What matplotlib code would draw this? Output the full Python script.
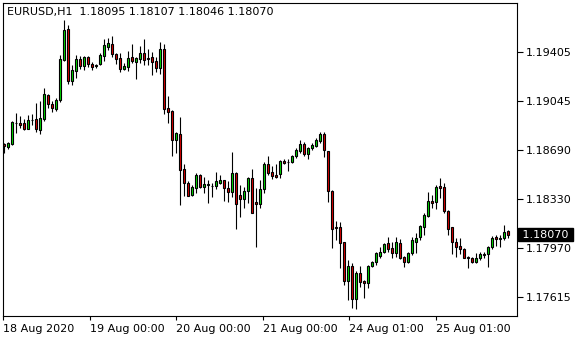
import matplotlib
matplotlib.use("Agg")
import matplotlib.pyplot as plt
import numpy as np

symbol = "EURUSD,H1"

opens = [1.18735, 1.18713, 1.18733, 1.18889, 1.18884, 1.18886, 1.18845, 1.18905, 1.18916, 1.18835,
         1.18914, 1.19089, 1.19023, 1.18991, 1.19053, 1.19348, 1.19572, 1.19196, 1.19267, 1.19355,
         1.19304, 1.19372, 1.19318, 1.19306, 1.19318, 1.19379, 1.19445, 1.19465, 1.19392, 1.19360,
         1.19284, 1.19299, 1.19367, 1.19335, 1.19357, 1.19397, 1.19360, 1.19367, 1.19340, 1.19291,
         1.19428, 1.18994, 1.18974, 1.18764, 1.18804, 1.18548, 1.18445, 1.18359, 1.18408, 1.18506,
         1.18420, 1.18435, 1.18428, 1.18427, 1.18449, 1.18467, 1.18408, 1.18379, 1.18518, 1.18357,
         1.18328, 1.18389, 1.18482, 1.18306, 1.18291, 1.18401, 1.18586, 1.18526, 1.18506, 1.18511,
         1.18608, 1.18598, 1.18599, 1.18643, 1.18684, 1.18733, 1.18657, 1.18701, 1.18720, 1.18757,
         1.18804, 1.18682, 1.18389, 1.18120, 1.18123, 1.18013, 1.17732, 1.17837, 1.17596, 1.17786,
         1.17730, 1.17713, 1.17837, 1.17867, 1.17915, 1.17944, 1.18006, 1.17969, 1.17937, 1.18006,
         1.17903, 1.17867, 1.17933, 1.18018, 1.18054, 1.18127, 1.18208, 1.18318, 1.18306, 1.18425,
         1.18416, 1.18244, 1.18123, 1.18013, 1.17986, 1.17962, 1.17904, 1.17896, 1.17867, 1.17896,
         1.17924, 1.17925, 1.17977, 1.18054, 1.18035, 1.18047, 1.18095]
highs = [1.18738, 1.18750, 1.18903, 1.18957, 1.18940, 1.18916, 1.18945, 1.18952, 1.19031, 1.19048,
         1.19140, 1.19099, 1.19048, 1.19067, 1.19384, 1.19644, 1.19604, 1.19311, 1.19384, 1.19377,
         1.19377, 1.19377, 1.19335, 1.19318, 1.19397, 1.19499, 1.19506, 1.19523, 1.19401, 1.19397,
         1.19328, 1.19416, 1.19465, 1.19372, 1.19450, 1.19501, 1.19426, 1.19406, 1.19372, 1.19477,
         1.19465, 1.19084, 1.18982, 1.18823, 1.18933, 1.18586, 1.18462, 1.18433, 1.18523, 1.18513,
         1.18493, 1.18469, 1.18445, 1.18526, 1.18506, 1.18471, 1.18462, 1.18674, 1.18526, 1.18435,
         1.18420, 1.18493, 1.18550, 1.18408, 1.18469, 1.18599, 1.18647, 1.18572, 1.18586, 1.18616,
         1.18623, 1.18623, 1.18654, 1.18703, 1.18762, 1.18750, 1.18711, 1.18738, 1.18774, 1.18818,
         1.18818, 1.18684, 1.18396, 1.18169, 1.18164, 1.18016, 1.17884, 1.17859, 1.17805, 1.17840,
         1.17737, 1.17847, 1.17876, 1.17944, 1.17981, 1.18006, 1.18050, 1.18018, 1.18050, 1.18037,
         1.17913, 1.17944, 1.18050, 1.18079, 1.18140, 1.18230, 1.18384, 1.18359, 1.18433, 1.18482,
         1.18445, 1.18250, 1.18127, 1.18042, 1.18042, 1.17969, 1.17913, 1.17903, 1.17933, 1.17940,
         1.17940, 1.17988, 1.18059, 1.18067, 1.18067, 1.18140, 1.18107]
lows = [1.18665, 1.18698, 1.18725, 1.18815, 1.18852, 1.18837, 1.18840, 1.18872, 1.18823, 1.18808,
        1.18901, 1.18998, 1.18969, 1.18974, 1.19042, 1.19340, 1.19172, 1.19165, 1.19214, 1.19282,
        1.19274, 1.19299, 1.19274, 1.19291, 1.19311, 1.19343, 1.19421, 1.19372, 1.19316, 1.19262,
        1.19274, 1.19269, 1.19323, 1.19209, 1.19323, 1.19311, 1.19311, 1.19238, 1.19262, 1.19243,
        1.18950, 1.18889, 1.18645, 1.18669, 1.18286, 1.18354, 1.18352, 1.18352, 1.18376, 1.18413,
        1.18376, 1.18303, 1.18343, 1.18403, 1.18442, 1.18318, 1.18310, 1.18343, 1.18108, 1.18201,
        1.18262, 1.18299, 1.18225, 1.17976, 1.18262, 1.18372, 1.18506, 1.18474, 1.18486, 1.18482,
        1.18586, 1.18537, 1.18594, 1.18632, 1.18665, 1.18647, 1.18621, 1.18689, 1.18709, 1.18738,
        1.18638, 1.18310, 1.17974, 1.18032, 1.17823, 1.17701, 1.17591, 1.17530, 1.17525, 1.17684,
        1.17603, 1.17681, 1.17830, 1.17847, 1.17900, 1.17933, 1.17944, 1.17900, 1.17903, 1.17891,
        1.17835, 1.17860, 1.17920, 1.17933, 1.18030, 1.18067, 1.18201, 1.18262, 1.18257, 1.18335,
        1.18225, 1.18067, 1.17928, 1.17903, 1.17928, 1.17896, 1.17827, 1.17862, 1.17860, 1.17884,
        1.17896, 1.17835, 1.17964, 1.17986, 1.17976, 1.18030, 1.18046]
closes = [1.18720, 1.18742, 1.18892, 1.18884, 1.18874, 1.18846, 1.18906, 1.18912, 1.18845, 1.18921,
          1.19097, 1.19023, 1.18994, 1.19053, 1.19355, 1.19567, 1.19194, 1.19274, 1.19353, 1.19306,
          1.19372, 1.19318, 1.19299, 1.19309, 1.19384, 1.19457, 1.19470, 1.19392, 1.19355, 1.19284,
          1.19304, 1.19360, 1.19343, 1.19360, 1.19397, 1.19348, 1.19357, 1.19333, 1.19291, 1.19428,
          1.18989, 1.18969, 1.18764, 1.18811, 1.18542, 1.18445, 1.18354, 1.18416, 1.18506, 1.18420,
          1.18440, 1.18438, 1.18426, 1.18460, 1.18467, 1.18408, 1.18379, 1.18518, 1.18291, 1.18328,
          1.18389, 1.18484, 1.18230, 1.18291, 1.18401, 1.18586, 1.18523, 1.18498, 1.18493, 1.18606,
          1.18591, 1.18600, 1.18645, 1.18689, 1.18733, 1.18657, 1.18703, 1.18725, 1.18762, 1.18806,
          1.18689, 1.18391, 1.18113, 1.18123, 1.18010, 1.17732, 1.17837, 1.17600, 1.17786, 1.17725,
          1.17713, 1.17840, 1.17869, 1.17933, 1.17940, 1.17998, 1.17964, 1.17933, 1.18013, 1.17900,
          1.17867, 1.17933, 1.18030, 1.18047, 1.18133, 1.18213, 1.18318, 1.18303, 1.18416, 1.18408,
          1.18244, 1.18108, 1.18013, 1.17981, 1.17962, 1.17900, 1.17902, 1.17867, 1.17896, 1.17925,
          1.17926, 1.17977, 1.18047, 1.18035, 1.18042, 1.18091, 1.18070]

y_ticks = [1.17615, 1.17970, 1.18330, 1.18690, 1.19045, 1.19405]
x_tick_labels = ["18 Aug 2020", "19 Aug 00:00", "20 Aug 00:00",
                 "21 Aug 00:00", "24 Aug 01:00", "25 Aug 01:00"]
x_tick_pos = [-0.08, 21.5, 43.18, 64.85, 86.43, 108.1]

W, H = 580, 340
fig = plt.figure(figsize=(W / 100, H / 100), dpi=100)
fig.patch.set_facecolor("white")
ax = fig.add_axes([3 / W, 24 / H, 513.5 / W, 313 / H])

o = np.array(opens)
c = np.array(closes)
x = np.arange(len(o))
up = c >= o

ax.vlines(x, lows, highs, color="black", lw=0.8, zorder=1)
bottoms = np.minimum(o, c)
heights = np.abs(c - o)
cols = np.where(up, "#00dd00", "#dd0000")
ax.bar(x, heights, width=0.6, bottom=bottoms, color=cols,
       edgecolor="black", linewidth=0.8, zorder=2)

ax.set_xlim(-0.2, 128.2)
ax.set_ylim(1.17474, 1.19765)

ax.yaxis.tick_right()
ax.set_yticks(y_ticks)
ax.set_yticklabels([f"{v:.5f}" for v in y_ticks])
ax.tick_params(axis="y", direction="out", length=4, width=0.8, labelsize=8,
               pad=3, colors="black")
ax.set_xticks(x_tick_pos)
ax.set_xticklabels(x_tick_labels)
for lab in ax.get_xticklabels():
    lab.set_horizontalalignment("left")
ax.tick_params(axis="x", direction="out", length=3, width=0.8, labelsize=8, pad=2.5)

for s in ax.spines.values():
    s.set_linewidth(0.8)
    s.set_color("black")

# current price label
ax.annotate(f" {closes[-1]:.5f} ", xy=(1, closes[-1]), xycoords=("axes fraction", "data"),
            xytext=(2.6, 0), textcoords="offset pixels", va="center", ha="left",
            color="white", fontsize=8, annotation_clip=False,
            bbox=dict(boxstyle="square,pad=0.1", fc="black", ec="black"))

# header
fig.text(7.3 / W, 1 - 12.5 / H,
         f"{symbol}  {opens[-1]:.5f} {highs[-1]:.5f} {lows[-1]:.5f} {closes[-1]:.5f}",
         fontsize=8, va="center", ha="left", color="black")

fig.savefig("out.png", dpi=100, facecolor="white")
